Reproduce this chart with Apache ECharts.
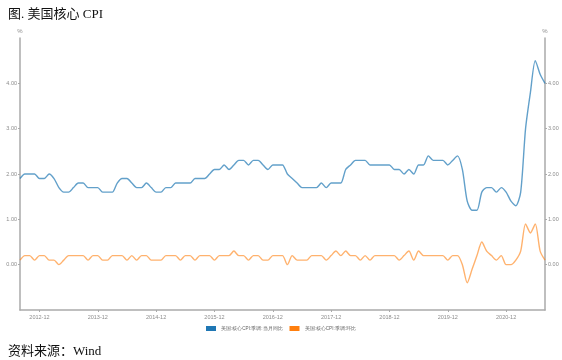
<!DOCTYPE html>
<html><head><meta charset="utf-8">
<script src="https://cdn.jsdelivr.net/npm/echarts@6/dist/echarts.min.js"></script>
<style>html,body{margin:0;padding:0;background:#fff}#c{width:562px;height:360px}</style>
</head><body><div id="c"></div>
<script>
// months 2012-08 .. 2021-08
var months = [];
for (var y = 2012, m = 8; y < 2021 || (y === 2021 && m <= 8); ) {
  months.push(y + '-' + (m < 10 ? '0' + m : m));
  m++; if (m > 12) { m = 1; y++; }
}
var coreYoY = [
 1.9,2.0,2.0,2.0,1.9,1.9,2.0,1.9,1.7,1.6,1.6,1.7,
 1.8,1.8,1.7,1.7,1.7,1.6,1.6,1.6,1.8,1.9,1.9,1.8,
 1.7,1.7,1.8,1.7,1.6,1.6,1.7,1.7,1.8,1.8,1.8,1.8,
 1.9,1.9,1.9,2.0,2.1,2.1,2.2,2.1,2.2,2.3,2.3,2.2,
 2.3,2.3,2.2,2.1,2.2,2.2,2.2,2.0,1.9,1.8,1.7,1.7,
 1.7,1.7,1.8,1.7,1.8,1.8,1.8,2.1,2.2,2.3,2.3,2.3,
 2.2,2.2,2.2,2.2,2.2,2.1,2.1,2.0,2.1,2.0,2.2,2.2,
 2.4,2.3,2.3,2.3,2.2,2.3,2.4,2.1,1.4,1.2,1.2,1.6,
 1.7,1.7,1.6,1.7,1.6,1.4,1.3,1.6,3.0,3.8,4.5,4.2,
 4.0
];
var coreMoM = [
 0.1,0.2,0.2,0.1,0.2,0.2,0.1,0.1,0.0,0.1,0.2,0.2,
 0.2,0.2,0.1,0.2,0.2,0.1,0.1,0.2,0.2,0.2,0.1,0.2,
 0.1,0.2,0.2,0.1,0.1,0.1,0.2,0.2,0.2,0.1,0.2,0.2,
 0.1,0.2,0.2,0.2,0.1,0.2,0.2,0.2,0.3,0.2,0.2,0.1,
 0.2,0.2,0.1,0.1,0.2,0.2,0.2,0.0,0.2,0.1,0.1,0.1,
 0.2,0.2,0.2,0.1,0.2,0.3,0.2,0.3,0.2,0.2,0.1,0.2,
 0.1,0.2,0.2,0.2,0.2,0.2,0.1,0.2,0.3,0.1,0.3,0.2,
 0.2,0.2,0.2,0.2,0.1,0.2,0.2,0.0,-0.4,-0.1,0.2,0.5,
 0.3,0.2,0.1,0.2,0.0,0.0,0.1,0.3,0.9,0.7,0.9,0.3,
 0.1
];
var seriesNames = ['美国:核心CPI:季调:当月同比', '美国:核心CPI:季调:环比'];
var yTicks = [0, 1, 2, 3, 4];

var chart = echarts.init(document.getElementById('c'), null, {renderer: 'canvas'});
var axisGrey = '#aaaaaa';
var labelGrey = '#8c8c8c';
function yAxis(pos) {
  return {
    type: 'value', position: pos, min: -1, max: 5, interval: 1,
    name: '%', nameLocation: 'end', nameGap: 4,
    nameTextStyle: {fontSize: 6, color: labelGrey},
    axisLine: {show: true, onZero: false, lineStyle: {color: axisGrey, width: 1.5}},
    axisTick: {show: true, length: 2, customValues: yTicks, lineStyle: {color: axisGrey}},
    splitLine: {show: false},
    axisLabel: {fontSize: 5.5, color: labelGrey, margin: 3, customValues: yTicks,
      formatter: function (v) { return Number(v).toFixed(2); }}
  };
}
chart.setOption({
  animation: false,
  backgroundColor: '#ffffff',
  title: [
    {text: '图. 美国核心 CPI', left: 3, top: 3,
     textStyle: {fontFamily: '"Liberation Serif","Noto Sans CJK SC",serif', fontSize: 13, fontWeight: 'normal', color: '#111'}},
    {text: '资料来源：Wind', left: 3, top: 340,
     textStyle: {fontFamily: '"Liberation Serif","Noto Sans CJK SC",serif', fontSize: 13, fontWeight: 'normal', color: '#111'}}
  ],
  grid: {left: 20, right: 17, top: 38, bottom: 50},
  legend: {
    data: seriesNames, left: 'center', top: 321, itemWidth: 10, itemHeight: 5, itemGap: 7,
    icon: 'rect', textStyle: {fontSize: 4.6, color: '#666'}
  },
  xAxis: {
    type: 'category', data: months, boundaryGap: false,
    axisLine: {onZero: false, lineStyle: {color: axisGrey, width: 1.5}},
    axisTick: {alignWithLabel: true, length: 2, lineStyle: {color: axisGrey},
      interval: function (i) { return i % 12 === 4; }},
    axisLabel: {fontSize: 5.5, color: labelGrey, margin: 4,
      interval: function (i) { return i % 12 === 4; }},
    splitLine: {show: false}
  },
  yAxis: [yAxis('left'), yAxis('right')],
  series: [
    {name: seriesNames[0], type: 'line', data: coreYoY, yAxisIndex: 0, smooth: 0.25,
     showSymbol: false, color: '#1f77b4', lineStyle: {width: 1.4, opacity: 0.7}},
    {name: seriesNames[1], type: 'line', data: coreMoM, yAxisIndex: 1, smooth: 0.25,
     showSymbol: false, color: '#ff7f0e', lineStyle: {width: 1.4, opacity: 0.6}}
  ]
});
</script></body></html>
